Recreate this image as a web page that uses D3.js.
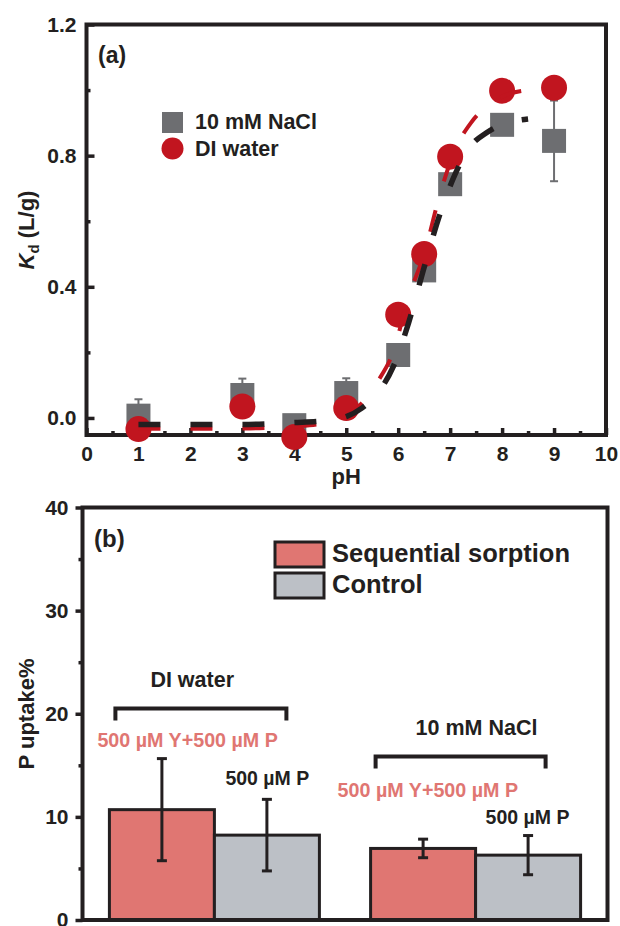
<!DOCTYPE html>
<html>
<head>
<meta charset="utf-8">
<script src="https://cdn.jsdelivr.net/npm/d3@7"></script>
<style>
body{margin:0;background:#fff;}
svg{display:block;font-family:"Liberation Sans",Arial,sans-serif;font-weight:bold;}
.tick line{stroke:#231f20;stroke-width:3.5;}
.tick text{fill:#231f20;}
</style>
</head>
<body>
<div class="dgraph"></div>
<script>
// (a) Kd against pH
var phVals = [1, 3, 4, 5, 6, 6.5, 7, 8, 9];
var naclKd = [0.007, 0.07, -0.022, 0.076, 0.192, 0.45, 0.713, 0.894, 0.845];
var naclErr = [0.05, 0.05, 0, 0.045, 0, 0, 0, 0, 0.123];
var diKd = [-0.034, 0.035, -0.058, 0.03, 0.315, 0.50, 0.797, 0.998, 1.007];

// fitted curves
var fitPH = [1, 2, 3, 4, 4.5, 5, 5.3, 5.6, 5.9, 6.2, 6.5, 6.8, 7.1, 7.4, 7.7, 8.0, 8.5];
var naclFit = [-0.02, -0.02, -0.02, -0.014, -0.01, 0.004, 0.03, 0.075, 0.155, 0.29, 0.46, 0.62, 0.745, 0.83, 0.87, 0.895, 0.912];
var diFit = [-0.033, -0.033, -0.032, -0.026, -0.018, 0.005, 0.045, 0.11, 0.2, 0.37, 0.5, 0.68, 0.82, 0.9, 0.95, 0.98, 1.0];

var kdTicks = [0, 0.4, 0.8, 1.2];
var kdMinor = [0.2, 0.6, 1.0];
var phTicks = [0, 1, 2, 3, 4, 5, 6, 7, 8, 9, 10];
var phMinor = [0.5, 1.5, 2.5, 3.5, 4.5, 5.5, 6.5, 7.5, 8.5, 9.5];

// (b) P uptake
var groups = ["DI water", "10 mM NaCl"];
var seqVals = [10.7, 6.94];
var seqErr = [4.95, 0.9];
var ctrlVals = [8.23, 6.29];
var ctrlErr = [3.47, 1.9];
var upTicks = [0, 10, 20, 30, 40];
var upMinor = [5, 15, 25, 35];

var dark = "#231f20", grey = "#6d6e71", red = "#c1151f";
var salmon = "#e07672", silver = "#bcc0c6";

var svg = d3.select("body .dgraph").append("svg").attr("width", 620).attr("height", 926);

// ---------- panel a ----------
var x = d3.scaleLinear().domain([0, 10]).range([86.5, 606]);
var y = d3.scaleLinear().domain([-0.052, 1.2]).range([435, 24.5]);

var ga = svg.append("g");

ga.append("g").attr("transform", "translate(0," + y(-0.052) + ")")
  .call(d3.axisBottom(x).tickValues(phMinor).tickSize(-4).tickFormat(""))
  .call(function(g){ g.select(".domain").remove(); });
ga.append("g").attr("transform", "translate(0," + y(-0.052) + ")")
  .call(d3.axisBottom(x).tickValues(phTicks).tickSize(-7).tickPadding(11).tickFormat(d3.format("d")))
  .call(function(g){ g.select(".domain").remove(); g.selectAll("text").attr("font-size", 21); });

ga.append("g").attr("transform", "translate(" + x(0) + ",0)")
  .call(d3.axisLeft(y).tickValues(kdMinor).tickSize(-4).tickFormat(""))
  .call(function(g){ g.select(".domain").remove(); });
ga.append("g").attr("transform", "translate(" + x(0) + ",0)")
  .call(d3.axisLeft(y).tickValues(kdTicks).tickSize(-8).tickPadding(10).tickFormat(d3.format(".1f")))
  .call(function(g){ g.select(".domain").remove(); g.selectAll("text").attr("font-size", 21); });

ga.append("rect").attr("x", x(0)).attr("y", y(1.2)).attr("width", x(10) - x(0)).attr("height", y(-0.052) - y(1.2))
  .attr("fill", "none").attr("stroke", dark).attr("stroke-width", 4);

// squares with error bars
var sq = ga.selectAll("g.sq").data(phVals).enter().append("g").attr("class", "sq");
sq.filter(function(d, i){ return naclErr[i] > 0; }).each(function(d){
  var k = phVals.indexOf(d), g = d3.select(this);
  var top = y(naclKd[k] + naclErr[k]), bot = y(naclKd[k] - naclErr[k]);
  g.append("line").attr("x1", x(d)).attr("x2", x(d)).attr("y1", top).attr("y2", bot).attr("stroke", grey).attr("stroke-width", 2);
  g.append("line").attr("x1", x(d) - 4).attr("x2", x(d) + 4).attr("y1", top).attr("y2", top).attr("stroke", grey).attr("stroke-width", 2);
  g.append("line").attr("x1", x(d) - 4).attr("x2", x(d) + 4).attr("y1", bot).attr("y2", bot).attr("stroke", grey).attr("stroke-width", 2);
});
sq.append("rect")
  .attr("x", function(d){ return x(d) - 12; })
  .attr("y", function(d, i){ return y(naclKd[i]) - 12; })
  .attr("width", 24).attr("height", 24).attr("fill", grey);

ga.selectAll("circle.di").data(phVals).enter().append("circle").attr("class", "di")
  .attr("cx", function(d){ return x(d); })
  .attr("cy", function(d, i){ return y(diKd[i]); })
  .attr("r", 13).attr("fill", red);

var line = d3.line().curve(d3.curveMonotoneX)
  .x(function(d){ return x(d[0]); }).y(function(d){ return y(d[1]); });

ga.append("path").datum(d3.zip(fitPH, diFit)).attr("d", line)
  .attr("fill", "none").attr("stroke", red).attr("stroke-width", 4).attr("stroke-dasharray", "22,30");
ga.append("path").datum(d3.zip(fitPH, naclFit)).attr("d", line)
  .attr("fill", "none").attr("stroke", dark).attr("stroke-width", 5.5).attr("stroke-dasharray", "22,30");

// legend a
ga.append("rect").attr("x", 162).attr("y", 112).attr("width", 21).attr("height", 21).attr("fill", grey);
ga.append("circle").attr("cx", 172.5).attr("cy", 148.5).attr("r", 11).attr("fill", red);
ga.append("text").attr("x", 195).attr("y", 129).attr("font-size", 21.5).attr("fill", dark).text("10 mM NaCl");
ga.append("text").attr("x", 195).attr("y", 156).attr("font-size", 21.5).attr("fill", dark).text("DI water");
ga.append("text").attr("x", 98).attr("y", 63).attr("font-size", 23).attr("fill", dark).text("(a)");

// axis titles a
ga.append("text").attr("x", x(5)).attr("y", 484).attr("text-anchor", "middle").attr("font-size", 22).attr("fill", dark).text("pH");
var yt = ga.append("text").attr("transform", "translate(34,230) rotate(-90)").attr("text-anchor", "middle")
  .attr("font-size", 22).attr("fill", dark);
yt.append("tspan").attr("font-style", "italic").text("K");
yt.append("tspan").attr("font-size", 15).attr("dy", 5).text("d");
yt.append("tspan").attr("dy", -5).text(" (L/g)");

// ---------- panel b ----------
var xb = d3.scaleBand().domain(groups).range([82.5, 607.5]).paddingInner(0.196).paddingOuter(0.103);
var yb = d3.scaleLinear().domain([0, 40]).range([920, 507.5]);
var bw = xb.bandwidth() / 2;

var gb = svg.append("g");

// outward ticks on this panel
gb.append("g").attr("transform", "translate(82.5,0)")
  .call(d3.axisLeft(yb).tickValues(upMinor).tickSize(4).tickFormat(""))
  .call(function(g){ g.select(".domain").remove(); });
gb.append("g").attr("transform", "translate(82.5,0)")
  .call(d3.axisLeft(yb).tickValues(upTicks).tickSize(7).tickPadding(7))
  .call(function(g){ g.select(".domain").remove(); g.selectAll("text").attr("font-size", 21); });

function bars(vals, errs, off, fill){
  var g = gb.append("g");
  g.selectAll("rect").data(groups).enter().append("rect")
    .attr("x", function(d){ return xb(d) + off; })
    .attr("y", function(d, i){ return yb(vals[i]); })
    .attr("width", bw)
    .attr("height", function(d, i){ return yb(0) - yb(vals[i]); })
    .attr("fill", fill).attr("stroke", dark).attr("stroke-width", 3);
  groups.forEach(function(d, i){
    var cx = xb(d) + off + bw / 2, t = yb(vals[i] + errs[i]), b = yb(vals[i] - errs[i]);
    g.append("line").attr("x1", cx).attr("x2", cx).attr("y1", t).attr("y2", b).attr("stroke", dark).attr("stroke-width", 3);
    g.append("line").attr("x1", cx - 5).attr("x2", cx + 5).attr("y1", t).attr("y2", t).attr("stroke", dark).attr("stroke-width", 3);
    g.append("line").attr("x1", cx - 5).attr("x2", cx + 5).attr("y1", b).attr("y2", b).attr("stroke", dark).attr("stroke-width", 3);
  });
}
bars(seqVals, seqErr, 0, salmon);
bars(ctrlVals, ctrlErr, bw, silver);

gb.append("rect").attr("x", 82.5).attr("y", yb(40)).attr("width", 525).attr("height", yb(0) - yb(40))
  .attr("fill", "none").attr("stroke", dark).attr("stroke-width", 4);

// brackets and condition labels
function bracket(x0, x1, yv){
  gb.append("path")
    .attr("d", "M" + x0 + "," + (yb(yv) + 12) + "V" + yb(yv) + "H" + x1 + "V" + (yb(yv) + 12))
    .attr("fill", "none").attr("stroke", dark).attr("stroke-width", 4);
}
var g1 = xb(groups[0]), g2 = xb(groups[1]);
bracket(g1 + 6, g1 + 177, 20.5);
bracket(g2 + 5, g2 + 175, 15.85);

gb.append("text").attr("x", g1 + 41).attr("y", yb(22.6)).attr("font-size", 21.5).attr("fill", dark).text("DI water");
gb.append("text").attr("x", g2 + 45).attr("y", yb(17.95)).attr("font-size", 21.5).attr("fill", dark).text("10 mM NaCl");
gb.append("text").attr("x", g1 - 12).attr("y", yb(16.8)).attr("font-size", 19.7).attr("fill", salmon).text("500 µM Y+500 µM P");
gb.append("text").attr("x", g2 - 33).attr("y", yb(11.9)).attr("font-size", 19.7).attr("fill", salmon).text("500 µM Y+500 µM P");
gb.append("text").attr("x", g1 + 116).attr("y", yb(13.1)).attr("font-size", 19.5).attr("fill", dark).text("500 µM P");
gb.append("text").attr("x", g2 + 115).attr("y", yb(9.35)).attr("font-size", 19.5).attr("fill", dark).text("500 µM P");

// legend b
gb.append("rect").attr("x", 275).attr("y", 542).attr("width", 49).attr("height", 25).attr("fill", salmon).attr("stroke", dark).attr("stroke-width", 3);
gb.append("rect").attr("x", 275).attr("y", 573).attr("width", 49).attr("height", 25).attr("fill", silver).attr("stroke", dark).attr("stroke-width", 3);
gb.append("text").attr("x", 332).attr("y", 562).attr("font-size", 25.5).attr("fill", dark).text("Sequential sorption");
gb.append("text").attr("x", 332).attr("y", 593).attr("font-size", 25.5).attr("fill", dark).text("Control");
gb.append("text").attr("x", 94).attr("y", 547).attr("font-size", 24).attr("fill", dark).text("(b)");

gb.append("text").attr("transform", "translate(34,714) rotate(-90)").attr("text-anchor", "middle")
  .attr("font-size", 22).attr("fill", dark).text("P uptake%");
</script>
</body>
</html>
